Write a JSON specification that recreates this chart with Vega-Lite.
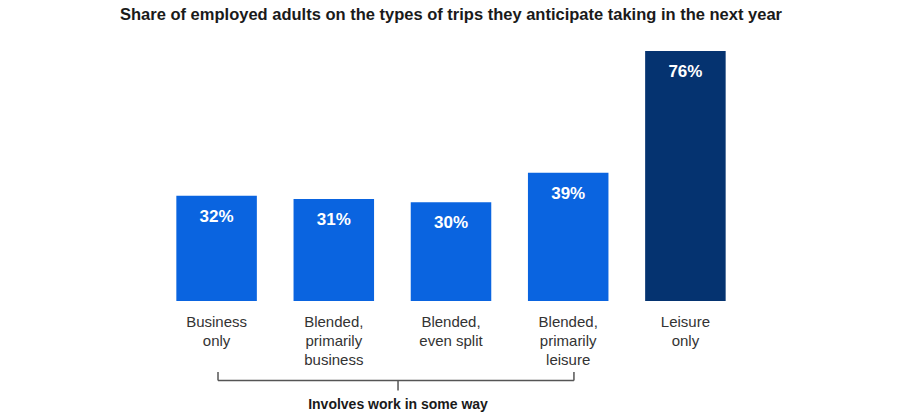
{
  "$schema": "https://vega.github.io/schema/vega-lite/v6.json",
  "autosize": {"type": "none"},
  "width": 586,
  "height": 250,
  "padding": {"left": 158, "top": 51, "right": 156, "bottom": 114},
  "background": "white",
  "config": {"view": {"stroke": null}, "font": "Liberation Sans"},
  "title": {
    "text": "Share of employed adults on the types of trips they anticipate taking in the next year",
    "font": "Liberation Sans",
    "fontSize": 16.5,
    "fontWeight": "bold",
    "color": "#1a1a1a",
    "anchor": "middle",
    "baseline": "alphabetic",
    "offset": 15
  },
  "layer": [
    {
      "data": {
        "values": [
          {"category": "Business|only", "share": 32, "label": "32%", "group": "work"},
          {"category": "Blended,|primarily|business", "share": 31, "label": "31%", "group": "work"},
          {"category": "Blended,|even split", "share": 30, "label": "30%", "group": "work"},
          {"category": "Blended,|primarily|leisure", "share": 39, "label": "39%", "group": "work"},
          {"category": "Leisure|only", "share": 76, "label": "76%", "group": "leisure"}
        ]
      },
      "encoding": {
        "x": {
          "field": "category",
          "type": "nominal",
          "sort": null,
          "scale": {"paddingInner": 0.313, "paddingOuter": 0.1565},
          "axis": {
            "title": null,
            "domain": false,
            "ticks": false,
            "labelAngle": 0,
            "labelExpr": "split(datum.value, '|')",
            "labelFont": "Liberation Sans",
            "labelFontSize": 15,
            "labelColor": "#333333",
            "labelLineHeight": 19,
            "labelPadding": 13,
            "labelBaseline": "top"
          }
        },
        "y": {
          "field": "share",
          "type": "quantitative",
          "scale": {"domain": [0, 76]},
          "axis": null
        }
      },
      "layer": [
        {
          "mark": {"type": "bar"},
          "encoding": {
            "color": {
              "field": "group",
              "type": "nominal",
              "scale": {"domain": ["work", "leisure"], "range": ["#0a64e0", "#053370"]},
              "legend": null
            }
          }
        },
        {
          "mark": {
            "type": "text",
            "color": "white",
            "font": "Liberation Sans",
            "fontSize": 17,
            "fontWeight": "bold",
            "baseline": "alphabetic",
            "dy": 26
          },
          "encoding": {
            "text": {"field": "label"}
          }
        }
      ]
    },
    {
      "data": {
        "values": [
          {"x": 0.512, "x2": 3.549, "y": -24.2, "y2": -24.2},
          {"x": 0.512, "x2": 0.512, "y": -21.6, "y2": -24.2},
          {"x": 3.549, "x2": 3.549, "y": -21.6, "y2": -24.2},
          {"x": 2.048, "x2": 2.048, "y": -24.2, "y2": -27.2}
        ]
      },
      "mark": {"type": "rule", "color": "#555555", "strokeWidth": 1.5},
      "encoding": {
        "x": {"field": "x", "type": "quantitative", "scale": {"domain": [0, 5], "nice": false, "zero": false}, "axis": null},
        "x2": {"field": "x2"},
        "y": {"field": "y", "type": "quantitative", "scale": {"domain": [0, 76]}, "axis": null},
        "y2": {"field": "y2"}
      }
    },
    {
      "data": {"values": [{"x": 2.048, "y": -32.7, "label": "Involves work in some way"}]},
      "mark": {
        "type": "text",
        "color": "#1a1a1a",
        "font": "Liberation Sans",
        "fontSize": 14,
        "fontWeight": "bold",
        "baseline": "alphabetic",
        "align": "center"
      },
      "encoding": {
        "x": {"field": "x", "type": "quantitative", "scale": {"domain": [0, 5], "nice": false, "zero": false}, "axis": null},
        "y": {"field": "y", "type": "quantitative", "scale": {"domain": [0, 76]}, "axis": null},
        "text": {"field": "label"}
      }
    }
  ],
  "resolve": {"scale": {"x": "independent"}, "axis": {"x": "independent"}}
}
